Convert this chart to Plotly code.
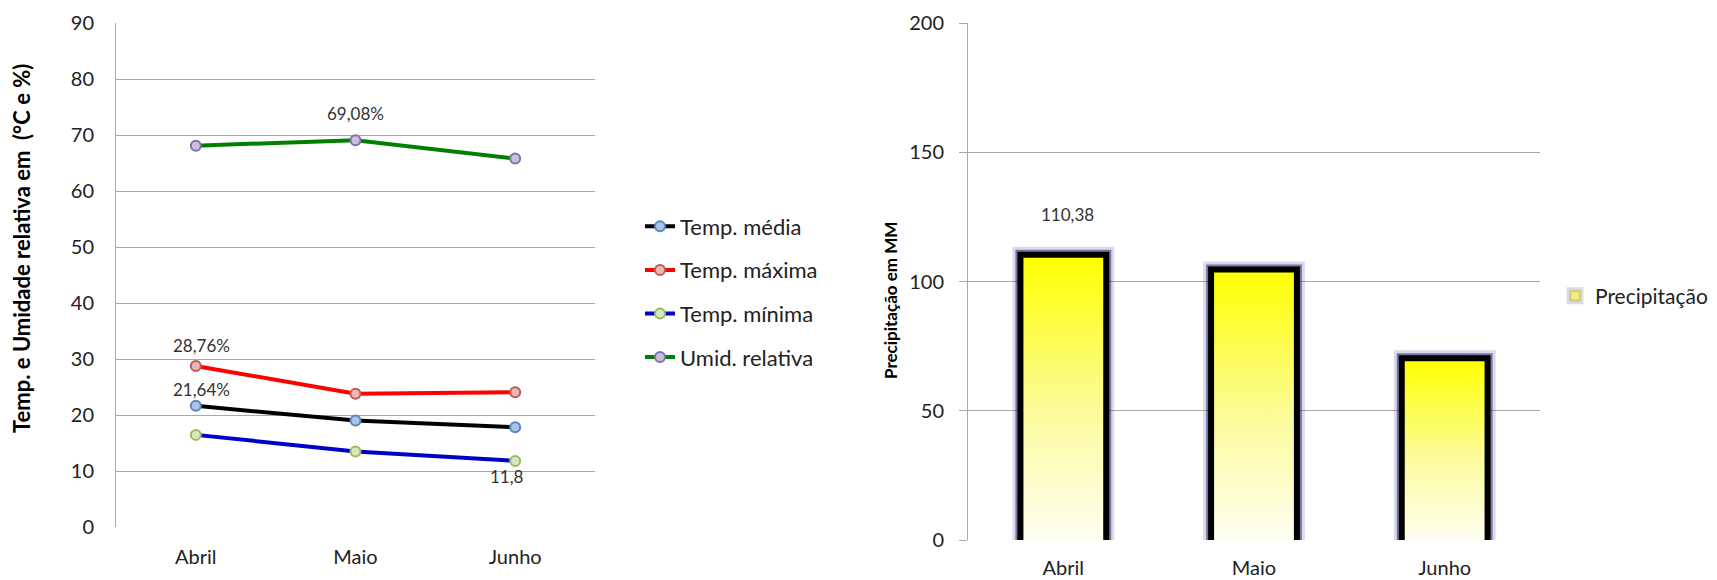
import plotly.graph_objects as go

# ---------------- data ----------------
months = ["Abril", "Maio", "Junho"]
temp_media = [21.64, 19.0, 17.8]
temp_maxima = [28.76, 23.8, 24.05]
temp_minima = [16.45, 13.5, 11.8]
umid_relativa = [68.1, 69.08, 65.8]
precipitacao = [110.38, 104.6, 70.3]

line_names = ["Temp. média", "Temp. máxima", "Temp. mínima", "Umid. relativa"]
line_colors = ["#000000", "#ff0000", "#0000c8", "#008000"]
marker_fill = ["#a9c4e4", "#e8b8b6", "#d8e6bf", "#c9bfdc"]
marker_edge = ["#5b86be", "#bf5a57", "#9cba5c", "#8270a8"]

# data labels: (series index, point index, text, yshift, xshift)
left_labels = [
    (3, 1, "69,08%", 27, 0),
    (1, 0, "28,76%", 20, 6),
    (0, 0, "21,64%", 16, 6),
    (2, 2, "11,8", -16, -8),
]
bar_labels = [(0, "110,38", 40, 4)]

FONT = "Lato, 'Open Sans', sans-serif"
GRID = "#a8a8a8"

W, H, OFF = 1717, 580, 8  # page body margin offset


def px(x):
    return (x - OFF) / W


def py(y):
    return (H - (y - OFF)) / H


fig = go.Figure()

series = [temp_media, temp_maxima, temp_minima, umid_relativa]
for i, vals in enumerate(series):
    fig.add_trace(go.Scatter(
        x=months, y=vals, mode="lines+markers", name=line_names[i],
        line=dict(color=line_colors[i], width=4),
        marker=dict(size=10, color=marker_fill[i], line=dict(color=marker_edge[i], width=2)),
        xaxis="x", yaxis="y", legend="legend", legendgroup=line_names[i],
    ))

# ---------------- precipitation bars ----------------
bar_w = 0.45
xi = list(range(len(months)))
# outer glow (also carries the legend swatch)
fig.add_trace(go.Bar(
    x=xi, y=precipitacao, width=bar_w, xaxis="x2", yaxis="y2",
    marker=dict(color="#f6f07a", line=dict(color="rgba(70,70,170,0.2)", width=16)),
    name="Precipitação", legend="legend2", hoverinfo="skip",
))
fig.add_trace(go.Bar(
    x=xi, y=precipitacao, width=bar_w, xaxis="x2", yaxis="y2",
    marker=dict(color="rgba(0,0,0,0)", line=dict(color="rgba(20,20,90,0.5)", width=10)),
    showlegend=False, hoverinfo="skip",
))
for k, v in enumerate(precipitacao):
    l, r = xi[k] - bar_w / 2, xi[k] + bar_w / 2
    fig.add_trace(go.Scatter(
        x=[l, l, r, r], y=[0, v, v, 0], mode="lines", fill="toself",
        fillgradient=dict(type="vertical",
                          colorscale=[[0, "#fffff2"], [0.45, "#fbfb9c"], [1, "#ffff00"]]),
        line=dict(color="#000000", width=6),
        showlegend=False, xaxis="x2", yaxis="y2", hoverinfo="skip",
    ))

annotations = []
for s, p, txt, ys, xs in left_labels:
    annotations.append(dict(x=months[p], y=series[s][p], xref="x", yref="y", text=txt,
                            showarrow=False, yshift=ys, xshift=xs,
                            font=dict(family=FONT, size=17, color="#333333")))
for p, txt, ys, xs in bar_labels:
    annotations.append(dict(x=xi[p], y=precipitacao[p], xref="x2", yref="y2", text=txt,
                            showarrow=False, yshift=ys, xshift=xs,
                            font=dict(family=FONT, size=17, color="#333333")))
annotations.append(dict(x=px(21), y=py(249), xref="paper", yref="paper",
                        xanchor="center", yanchor="middle",
                        text="Temp. e Umidade relativa em  (°C e %)", textangle=-90,
                        showarrow=False, font=dict(family=FONT, size=22, color="#000000", weight="bold")))
annotations.append(dict(x=px(890), y=py(301), xref="paper", yref="paper",
                        xanchor="center", yanchor="middle",
                        text="Precipitação em MM", textangle=-90,
                        showarrow=False, font=dict(family=FONT, size=17, color="#000000", weight="bold")))

fig.update_layout(
    width=W, height=H,
    margin=dict(l=0, r=0, t=0, b=0, autoexpand=False),
    paper_bgcolor="white", plot_bgcolor="white",
    font=dict(family=FONT, color="#222222"),
    barmode="overlay",
    xaxis=dict(domain=[px(116), px(595)], type="category", range=[-0.5, 2.5],
               automargin=False, showgrid=False, showline=False, zeroline=False, ticks="",
               tickfont=dict(family=FONT, size=20, color="#222222"), ticklabelstandoff=16),
    yaxis=dict(domain=[py(527), py(23)], range=[0, 90], dtick=10, automargin=False,
               showgrid=True, gridcolor=GRID, gridwidth=1, zeroline=False,
               showline=True, linecolor=GRID, linewidth=1, ticks="",
               tickfont=dict(family=FONT, size=20, color="#222222"), ticklabelstandoff=17),
    xaxis2=dict(domain=[px(968), px(1540)], range=[-0.5, 2.5], automargin=False,
                tickvals=xi, ticktext=months, showgrid=False, zeroline=False, showline=False,
                ticks="", tickfont=dict(family=FONT, size=20, color="#222222"),
                ticklabelstandoff=27),
    yaxis2=dict(domain=[py(540), py(23)], anchor="x2", range=[0, 200], dtick=50,
                automargin=False,
                showgrid=True, gridcolor=GRID, gridwidth=1, zeroline=False,
                showline=True, linecolor=GRID, linewidth=1, ticks="outside", ticklen=8,
                tickcolor=GRID, tickfont=dict(family=FONT, size=20, color="#222222"),
                ticklabelstandoff=11),
    legend=dict(x=px(640), y=py(205.5), xanchor="left", yanchor="top",
                font=dict(family=FONT, size=22, color="#222222"),
                tracegroupgap=12, bgcolor="rgba(0,0,0,0)"),
    legend2=dict(x=px(1555), y=py(296), xanchor="left", yanchor="middle",
                 font=dict(family=FONT, size=21, color="#222222"),
                 bgcolor="rgba(0,0,0,0)"),
    annotations=annotations,
)

fig.write_html("out.html")
